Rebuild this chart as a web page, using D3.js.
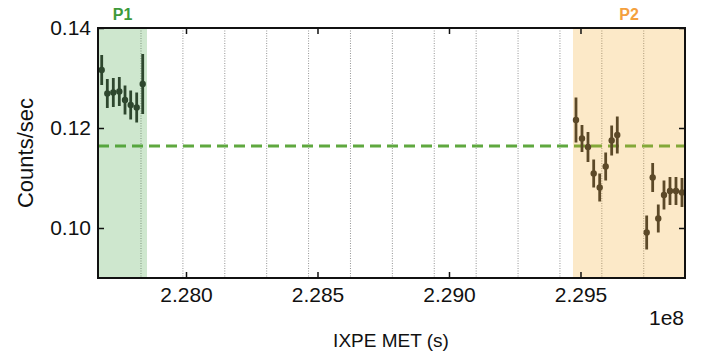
<!DOCTYPE html>
<html>
<head>
<meta charset="utf-8">
<title>IXPE light curve</title>
<script src="https://d3js.org/d3.v7.min.js"></script>
<style>
  body { margin: 0; background: #fff; }
  svg text { font-family: "Liberation Sans", Arial, Helvetica, sans-serif; fill: #111; }
</style>
</head>
<body>
<div id="chart"></div>
<script>
// light curve bins (IXPE MET seconds), rate and 1-sigma error
const p1Time = [227679500, 227700800, 227723600, 227746400, 227768100, 227789700, 227812500, 227835400];
const p1Rate = [0.1316, 0.1269, 0.1271, 0.1273, 0.1256, 0.1246, 0.1241, 0.1288];
const p1Err  = [0.0030, 0.0029, 0.0029, 0.0029, 0.0029, 0.0029, 0.0030, 0.0060];

const p2Time = [229482900, 229505700, 229528500, 229550200, 229573000, 229595800, 229618600, 229639900,
                229751700, 229774500, 229795800, 229817500, 229840300, 229863100, 229885900];
const p2Rate = [0.1216, 0.1179, 0.1162, 0.1109, 0.1081, 0.1123, 0.1175, 0.1186,
                0.0991, 0.1101, 0.1019, 0.1066, 0.1074, 0.1074, 0.1071];
const p2Err  = [0.0045, 0.0027, 0.0030, 0.0028, 0.0028, 0.0028, 0.0030, 0.0037,
                0.0034, 0.0029, 0.0028, 0.0029, 0.0028, 0.0028, 0.0029];

// orbit / segment boundaries (dotted lines)
const segLines = [227828900, 227988200, 228147500, 228306800, 228466100, 228625400, 228784700,
                  228944000, 229103300, 229262600, 229421900, 229581200, 229740500];

// shaded periods
const periods = [
  { name: "P1", start: 227665400, end: 227851700, color: "#3c9f3c", text: "#3d9a3a" },
  { name: "P2", start: 229471500, end: 229897400, color: "#f5a623", text: "#f4a03e" }
];

const meanRate = 0.1164;
const xDomain = [227665400, 229897400];
const yDomain = [0.09, 0.14];
const xTicks = [2.280e8, 2.285e8, 2.290e8, 2.295e8];
const yTicks = [0.10, 0.12, 0.14];

const W = 710, H = 356;
const margin = { top: 28, right: 25, bottom: 78, left: 98 };
const w = W - margin.left - margin.right;
const h = H - margin.top - margin.bottom;

const svg = d3.select("#chart").append("svg")
  .attr("width", W).attr("height", H);
const g = svg.append("g")
  .attr("transform", "translate(" + margin.left + "," + margin.top + ")");

const x = d3.scaleLinear().domain(xDomain).range([0, w]);
const y = d3.scaleLinear().domain(yDomain).range([h, 0]);

// dotted segment lines
g.selectAll(".seg").data(segLines).enter().append("line")
  .attr("x1", d => x(d)).attr("x2", d => x(d))
  .attr("y1", 0).attr("y2", h)
  .attr("stroke", "#888").attr("stroke-width", 0.9)
  .attr("stroke-dasharray", "1,1.5");

// mean rate
g.append("line")
  .attr("x1", 0).attr("x2", w)
  .attr("y1", y(meanRate)).attr("y2", y(meanRate))
  .attr("stroke", "#5fa83f").attr("stroke-width", 3)
  .attr("stroke-dasharray", "11,6");

// error bars + points
const pts = p1Time.map((t, i) => ({ t: t, r: p1Rate[i], e: p1Err[i] }))
  .concat(p2Time.map((t, i) => ({ t: t, r: p2Rate[i], e: p2Err[i] })));

g.selectAll(".err").data(pts).enter().append("line")
  .attr("x1", d => x(d.t)).attr("x2", d => x(d.t))
  .attr("y1", d => y(d.r - d.e)).attr("y2", d => y(d.r + d.e))
  .attr("stroke", "#2a2a2a").attr("stroke-width", 2.8);

g.selectAll(".pt").data(pts).enter().append("circle")
  .attr("cx", d => x(d.t)).attr("cy", d => y(d.r))
  .attr("r", 3.2).attr("fill", "#2a2a2a");

// shaded periods on top
g.selectAll(".span").data(periods).enter().append("rect")
  .attr("x", d => x(Math.max(d.start, xDomain[0])))
  .attr("width", d => x(Math.min(d.end, xDomain[1])) - x(Math.max(d.start, xDomain[0])))
  .attr("y", 0).attr("height", h)
  .attr("fill", d => d.color).attr("fill-opacity", 0.25);

g.selectAll(".plab").data(periods).enter().append("text")
  .attr("x", d => x((Math.max(d.start, xDomain[0]) + Math.min(d.end, xDomain[1])) / 2))
  .attr("y", -8)
  .attr("text-anchor", "middle")
  .style("font-size", "16px").style("font-weight", "bold")
  .style("fill", d => d.text)
  .text(d => d.name);

// axes with inward ticks on all sides
const fmtX = d => (d / 1e8).toFixed(3);
const fmtY = d => d.toFixed(2);

const axB = g.append("g").attr("transform", "translate(0," + h + ")")
  .call(d3.axisBottom(x).tickValues(xTicks).tickFormat(fmtX).tickSizeInner(-6).tickSizeOuter(0).tickPadding(9));
const axT = g.append("g")
  .call(d3.axisTop(x).tickValues(xTicks).tickFormat("").tickSizeInner(-6).tickSizeOuter(0));
const axL = g.append("g")
  .call(d3.axisLeft(y).tickValues(yTicks).tickFormat(fmtY).tickSizeInner(-6).tickSizeOuter(0).tickPadding(7));
const axR = g.append("g").attr("transform", "translate(" + w + ",0)")
  .call(d3.axisRight(y).tickValues(yTicks).tickFormat("").tickSizeInner(-6).tickSizeOuter(0));

[axB, axT, axL, axR].forEach(a => {
  a.select(".domain").remove();
  a.selectAll(".tick line").attr("stroke", "#111").attr("stroke-width", 1.5);
  a.selectAll(".tick text").style("font-size", "21px").attr("fill", "#111");
});

// frame
g.append("rect").attr("x", 0).attr("y", 0).attr("width", w).attr("height", h)
  .attr("fill", "none").attr("stroke", "#111").attr("stroke-width", 2);

// labels
svg.append("text")
  .attr("transform", "translate(33," + (margin.top + h / 2) + ") rotate(-90)")
  .attr("text-anchor", "middle")
  .style("font-size", "22px")
  .text("Counts/sec");

svg.append("text")
  .attr("x", 391).attr("y", 347)
  .attr("text-anchor", "middle")
  .style("font-size", "19px")
  .text("IXPE MET (s)");

svg.append("text")
  .attr("x", 684).attr("y", 325)
  .attr("text-anchor", "end")
  .style("font-size", "21px")
  .text("1e8");
</script>
</body>
</html>
